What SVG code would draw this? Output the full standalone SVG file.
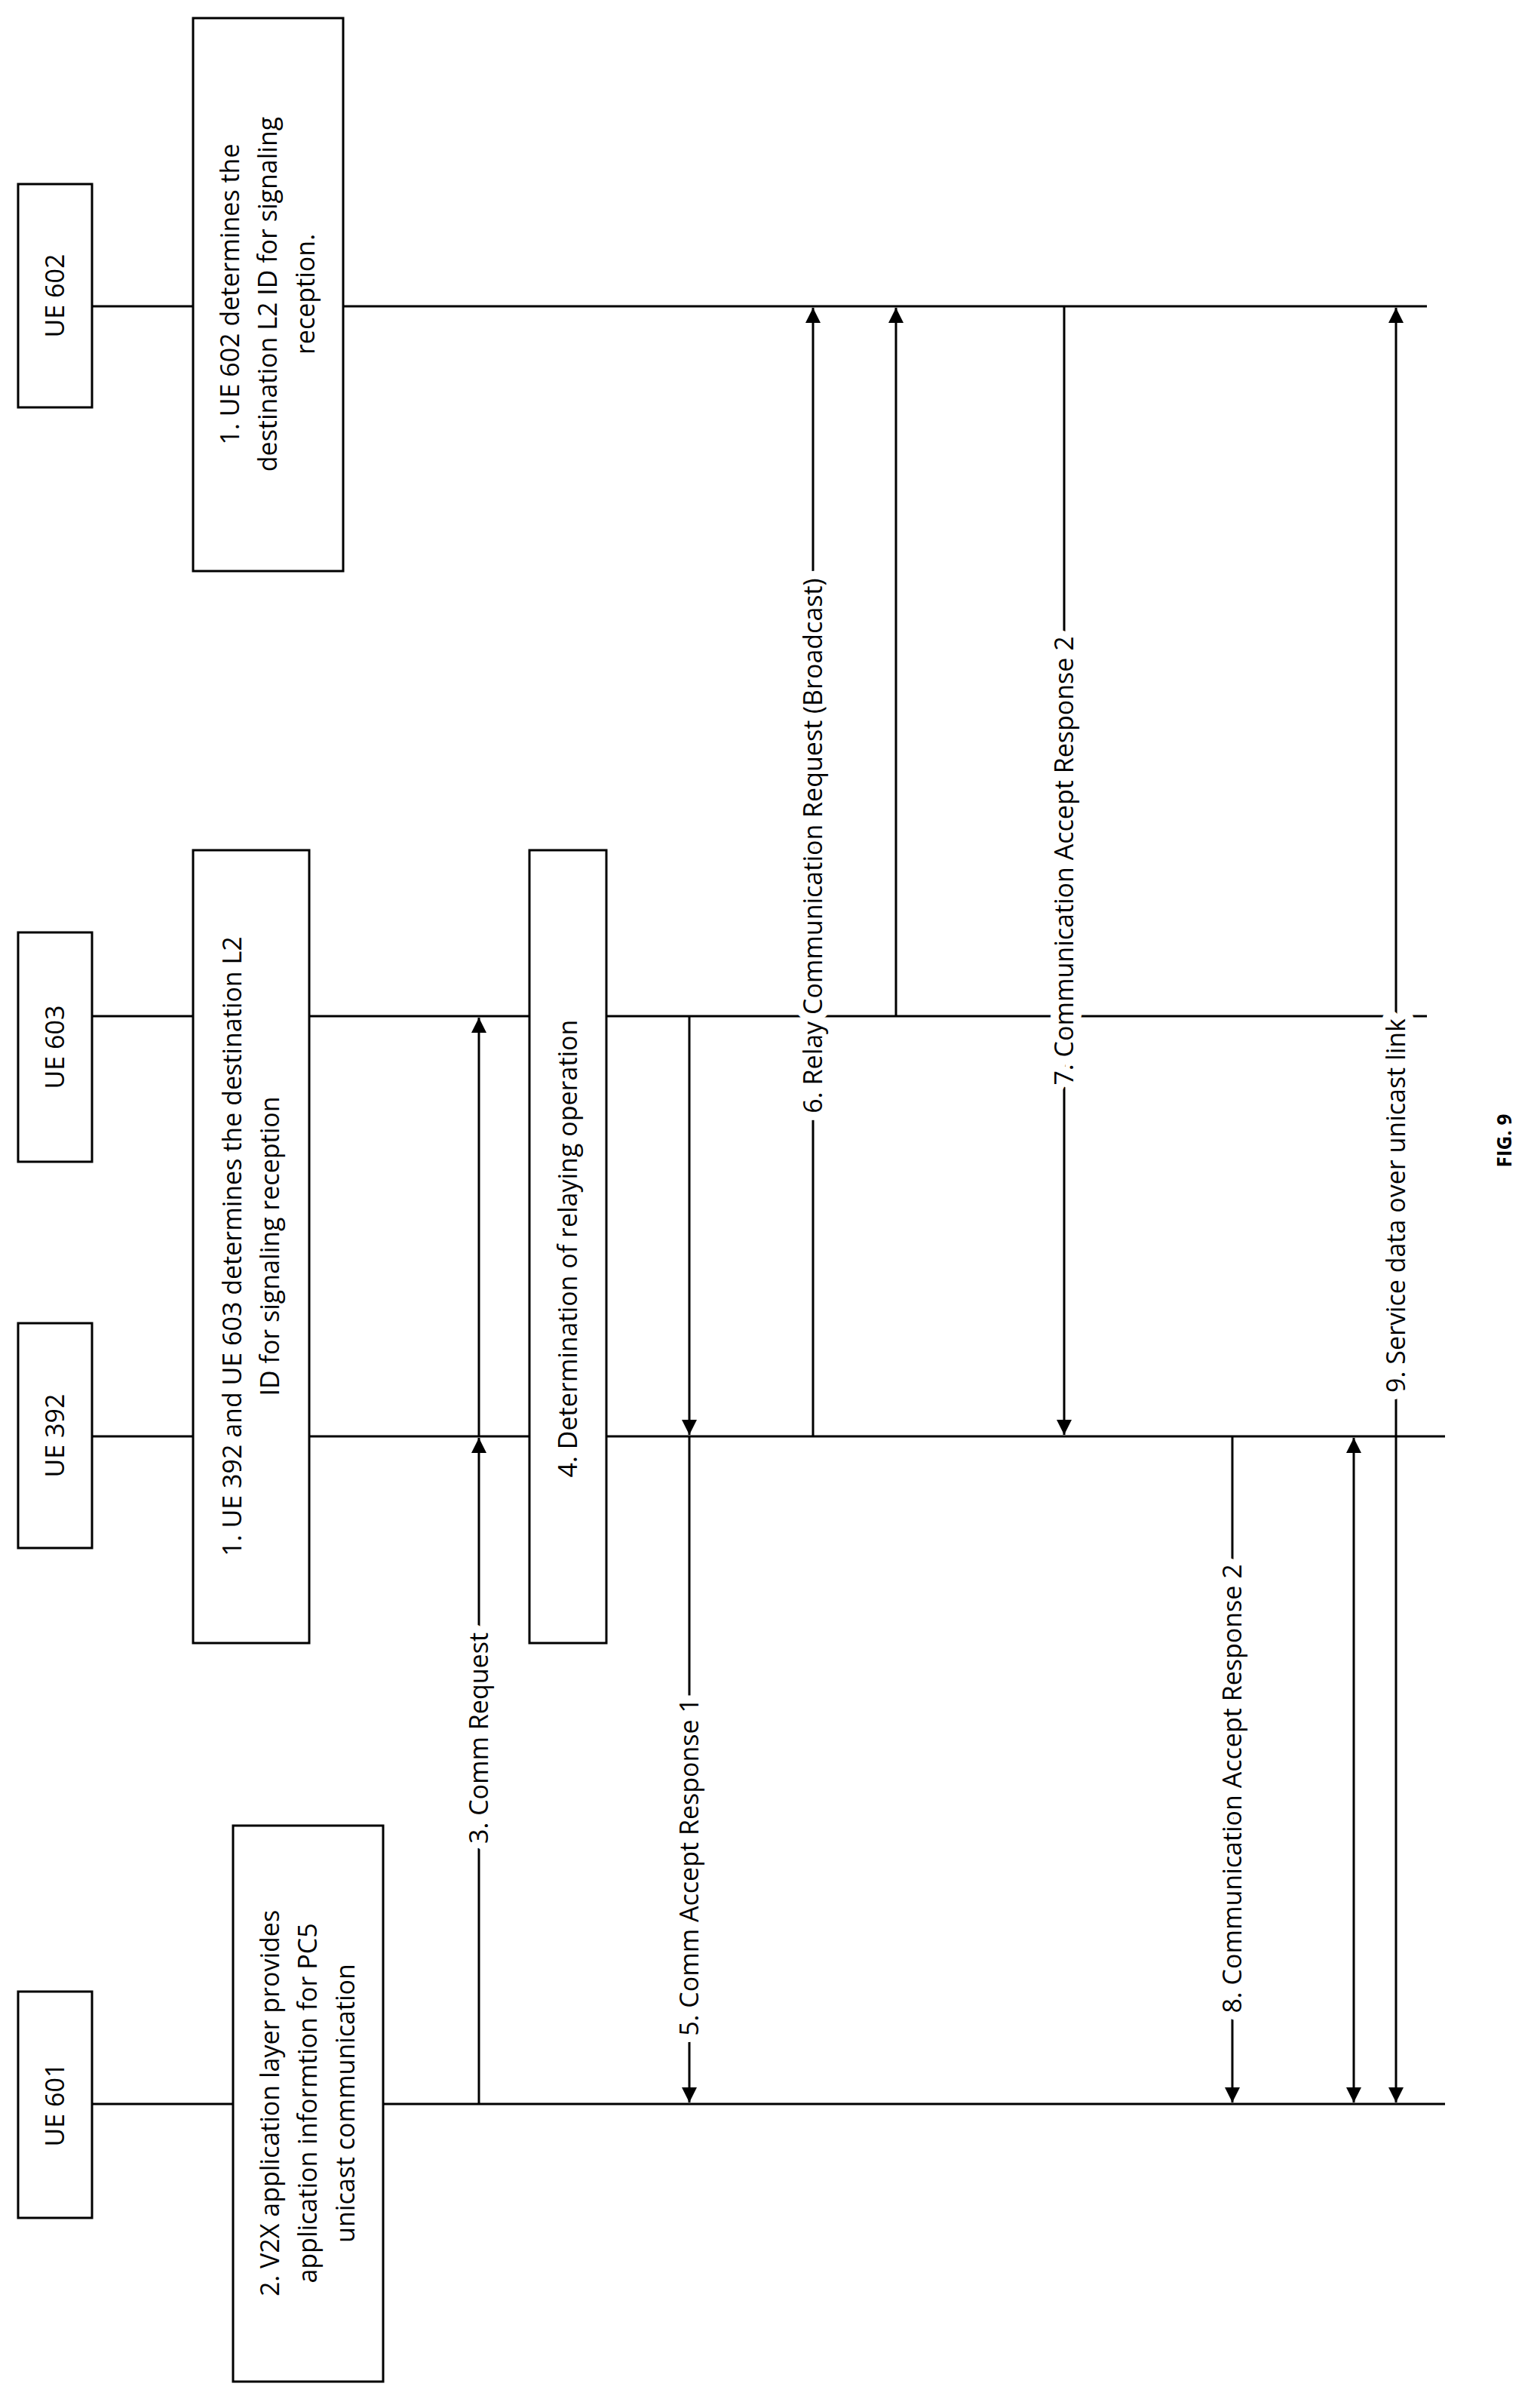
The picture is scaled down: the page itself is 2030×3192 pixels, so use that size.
<svg xmlns="http://www.w3.org/2000/svg" width="2030" height="3192" viewBox="0 0 2030 3192">
<style>
.bx{fill:#fff;stroke:#000;stroke-width:3}
.ln{stroke:#000;stroke-width:3;fill:none}
.t{font-family:"Open Sans","Liberation Sans",sans-serif;font-size:34px;fill:#000;text-anchor:middle}
.lb{font-family:"Open Sans","Liberation Sans",sans-serif;font-size:34px;fill:#000;text-anchor:middle;stroke:#fff;stroke-width:22;paint-order:stroke;stroke-linejoin:round}
</style>
<defs>
<marker id="ah" viewBox="0 0 10 10" refX="10" refY="5" markerUnits="userSpaceOnUse" markerWidth="30" markerHeight="20" orient="auto-start-reverse"><path d="M0,0 L10,5 L0,10 z" fill="#000"/></marker>
</defs>
<g id="lifelines">
<line class="ln" x1="122" y1="406" x2="1892" y2="406"/>
<line class="ln" x1="122" y1="1347" x2="1892" y2="1347"/>
<line class="ln" x1="122" y1="1904" x2="1916" y2="1904"/>
<line class="ln" x1="122" y1="2789" x2="1916" y2="2789"/>
</g>
<g id="ue602"><rect class="bx" x="24" y="244" width="98" height="296"/><text class="t" transform="translate(73,392) rotate(-90)" dy="12">UE 602</text></g>
<g id="ue603"><rect class="bx" x="24" y="1236" width="98" height="304"/><text class="t" transform="translate(73,1388) rotate(-90)" dy="12">UE 603</text></g>
<g id="ue392"><rect class="bx" x="24" y="1754" width="98" height="298"/><text class="t" transform="translate(73,1903) rotate(-90)" dy="12">UE 392</text></g>
<g id="ue601"><rect class="bx" x="24" y="2640" width="98" height="300"/><text class="t" transform="translate(73,2790) rotate(-90)" dy="12">UE 601</text></g>
<g id="step1a"><rect class="bx" x="256" y="24" width="199" height="733"/><text class="t" transform="translate(355,390) rotate(-90)"><tspan x="0" y="-38">1.  UE 602 determines the</tspan><tspan x="0" y="12">destination L2 ID for signaling</tspan><tspan x="0" y="62">reception.</tspan></text></g>
<g id="step1b"><rect class="bx" x="256" y="1127" width="154" height="1051"/><text class="t" transform="translate(333,1652) rotate(-90)"><tspan x="0" y="-13">1.  UE 392 and UE 603 determines the destination L2</tspan><tspan x="0" y="37">ID for signaling reception</tspan></text></g>
<g id="step4"><rect class="bx" x="702" y="1127" width="102" height="1051"/><text class="t" transform="translate(753,1655) rotate(-90)" dy="12">4. Determination of relaying operation</text></g>
<g id="step2"><rect class="bx" x="309" y="2420" width="199" height="737"/><text class="t" transform="translate(408,2788) rotate(-90)"><tspan x="0" y="-38">2.  V2X application layer provides</tspan><tspan x="0" y="12">application informtion for PC5</tspan><tspan x="0" y="62">unicast communication</tspan></text></g>
<g id="connectors">
<line class="ln" x1="635" y1="2789" x2="635" y2="1906" marker-end="url(#ah)"/>
<line class="ln" x1="635" y1="1904" x2="635" y2="1349" marker-end="url(#ah)"/>
<line class="ln" x1="914" y1="1347" x2="914" y2="1902" marker-end="url(#ah)"/>
<line class="ln" x1="914" y1="1904" x2="914" y2="2787" marker-end="url(#ah)"/>
<line class="ln" x1="1078" y1="1904" x2="1078" y2="408" marker-end="url(#ah)"/>
<line class="ln" x1="1188" y1="1347" x2="1188" y2="408" marker-end="url(#ah)"/>
<line class="ln" x1="1411" y1="406" x2="1411" y2="1902" marker-end="url(#ah)"/>
<line class="ln" x1="1634" y1="1904" x2="1634" y2="2787" marker-end="url(#ah)"/>
<line class="ln" x1="1795" y1="1906" x2="1795" y2="2787" marker-start="url(#ah)" marker-end="url(#ah)"/>
<line class="ln" x1="1851" y1="408" x2="1851" y2="2787" marker-start="url(#ah)" marker-end="url(#ah)"/>
<text class="lb" transform="translate(635,2304) rotate(-90)" dy="12">3. Comm Request</text>
<text class="lb" transform="translate(914,2475) rotate(-90)" dy="12">5. Comm Accept Response 1</text>
<text class="lb" transform="translate(1078,1121) rotate(-90)" dy="12">6. Relay Communication Request (Broadcast)</text>
<text class="lb" transform="translate(1411,1141) rotate(-90)" dy="12">7. Communication Accept Response 2</text>
<text class="lb" transform="translate(1634,2371) rotate(-90)" dy="12">8.  Communication Accept Response 2</text>
<text class="lb" transform="translate(1851,1598) rotate(-90)" dy="12">9. Service data over unicast link</text>
</g>
<text transform="translate(1995,1512) rotate(-90)" dy="9" style="font-family:'Open Sans','Liberation Sans',sans-serif;font-size:26px;font-weight:bold;text-anchor:middle">FIG. 9</text>
</svg>
